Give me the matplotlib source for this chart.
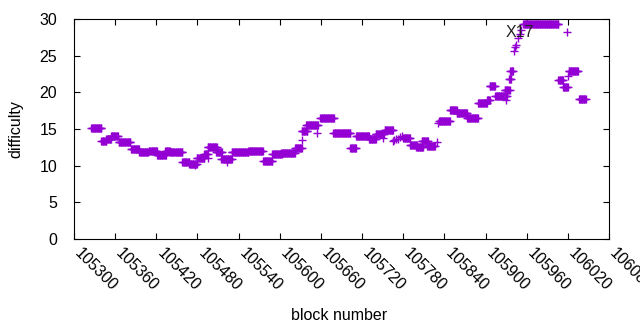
import matplotlib
matplotlib.use("Agg")
import matplotlib.pyplot as plt
import numpy as np

plt.rcParams['font.family'] = ['Liberation Sans', 'DejaVu Sans']

# runs of blocks sharing one difficulty: first block, last block, difficulty
seg_first = [105325, 105340, 105347, 105354, 105365, 105383, 105395, 105409, 105421,
             105433, 105440, 105458, 105468, 105479, 105490, 105495, 105507, 105515,
             105530, 105554, 105576, 105589, 105602, 105622, 105633, 105638, 105659,
             105678, 105703, 105711, 105730, 105740, 105753, 105780, 105790, 105799,
             105807, 105815, 105832, 105848, 105858, 105873, 105889, 105902, 105906,
             105914, 105928, 105934, 105936, 105955, 106006, 106013, 106021, 106036]
seg_last = [105340, 105347, 105354, 105364, 105382, 105395, 105408, 105421, 105434,
            105440, 105458, 105468, 105479, 105490, 105495, 105508, 105516, 105530,
            105554, 105575, 105589, 105603, 105622, 105632, 105640, 105656, 105679,
            105703, 105711, 105730, 105740, 105752, 105765, 105790, 105800, 105809,
            105816, 105826, 105848, 105858, 105873, 105889, 105902, 105906, 105914,
            105931, 105935, 105937, 105940, 106006, 106013, 106020, 106035, 106046]
seg_diff = [15.2, 13.4, 13.6, 14.0, 13.2, 12.3, 11.8, 12.0, 11.5,
            12.0, 11.8, 10.5, 10.2, 11.0, 11.6, 12.5, 11.9, 10.9,
            11.9, 12.0, 10.7, 11.6, 11.7, 12.4, 14.7, 15.6, 16.5,
            14.4, 12.4, 14.1, 13.6, 14.3, 14.9, 13.8, 12.8, 12.5,
            13.3, 12.7, 16.1, 17.6, 17.2, 16.5, 18.6, 19.0, 20.9,
            19.5, 20.3, 21.8, 22.9, 29.3, 21.7, 20.7, 22.9, 19.1]

# single blocks standing apart from the runs
pt_block = [105476, 105495, 105523, 105632, 105633, 105654, 105751, 105765, 105767,
            105770, 105773, 105776, 105778, 105829, 105831, 105930, 105941, 105943,
            105945, 105947, 105950, 105952, 106019, 106020]
pt_diff = [10.1, 11.0, 10.5, 13.5, 14.7, 14.4, 13.8, 13.3, 13.5,
           13.6, 13.7, 13.9, 14.0, 13.2, 15.8, 19.0, 25.7, 26.2,
           26.5, 27.4, 28.0, 28.5, 28.2, 22.2]

x_ticks = list(range(105300, 106081, 60))

blocks = []
diffs = []
for a, b, d in zip(seg_first, seg_last, seg_diff):
    run = list(range(a, b + 1))
    blocks += run
    diffs += [d] * len(run)
blocks += pt_block
diffs += pt_diff

fig = plt.figure(figsize=(6.4, 3.3), dpi=100)
ax = fig.add_axes([74 / 640, 91 / 330, 535 / 640, 220 / 330])

ax.plot(blocks, diffs, linestyle='none', marker='+', markersize=5.2,
        markeredgewidth=1.0, color='#9400d3')
ax.text(105950, 28.2, 'X17', ha='center', va='center', fontsize=11.5, color='#222222')

ax.set_xlim(105300, 106080)
ax.set_ylim(0, 30)
ax.set_xticks(x_ticks)
ax.set_xticklabels([str(t) for t in x_ticks], rotation=-45, ha='left', va='baseline',
                   rotation_mode='anchor', fontsize=11.5)
ax.set_yticks(range(0, 31, 5))
ax.tick_params(axis='y', labelsize=11.5, pad=12)
ax.tick_params(axis='x', pad=11)
ax.tick_params(direction='in', length=4, width=0.8, top=True, right=True)
for s in ax.spines.values():
    s.set_linewidth(0.8)

fig.text(339 / 640, 1 - 315 / 330, 'block number', ha='center', va='center', fontsize=11.5)
fig.text(16 / 640, 1 - 129 / 330, 'difficulty', ha='center', va='center',
         rotation=90, fontsize=11.5)

fig.savefig('out.png', dpi=100)
